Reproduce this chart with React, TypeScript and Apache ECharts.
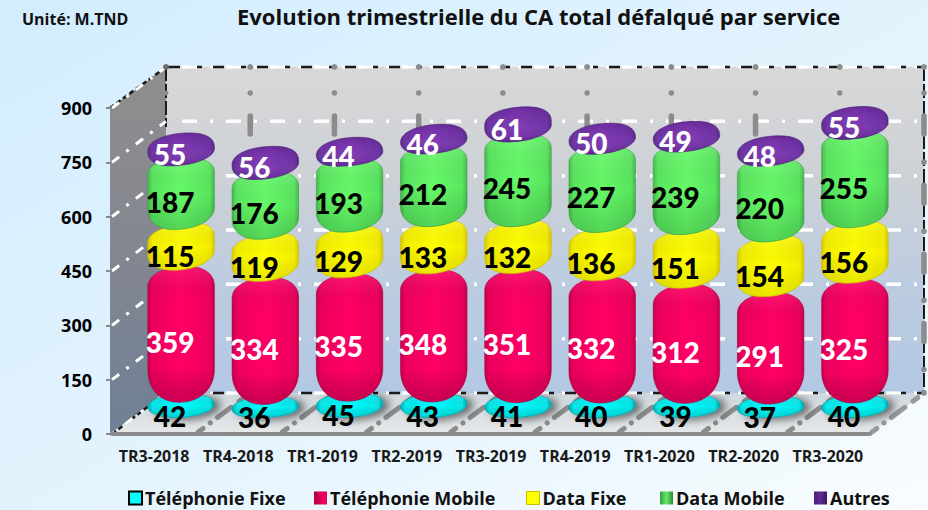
import React, { useEffect, useRef } from "react";
import * as echarts from "echarts";

const categories = ["TR3-2018", "TR4-2018", "TR1-2019", "TR2-2019", "TR3-2019", "TR4-2019", "TR1-2020", "TR2-2020", "TR3-2020"];
const telephonieFixe = [42, 36, 45, 43, 41, 40, 39, 37, 40];
const telephonieMobile = [359, 334, 335, 348, 351, 332, 312, 291, 325];
const dataFixe = [115, 119, 129, 133, 132, 136, 151, 154, 156];
const dataMobile = [187, 176, 193, 212, 245, 227, 239, 220, 255];
const autres = [55, 56, 44, 46, 61, 50, 49, 48, 55];
const yTicks = [0, 150, 300, 450, 600, 750, 900];

const FONT = "'Open Sans', sans-serif";
const GL = 112, GR = 870, GT = 108, GB = 434;
const DX = 54, DY = -41;

const rim = [0, 0.07, 0.5, 0.93, 1];
const hg = (stops: any[]) => new echarts.graphic.LinearGradient(0, 0, 1, 0, stops.map((c, i) => ({ offset: stops.length === 5 ? rim[i] : i / (stops.length - 1), color: c })));
const vg = (stops: any[]) => new echarts.graphic.LinearGradient(0, 0, 0, 1, stops.map((c, i) => ({ offset: i / (stops.length - 1), color: c })));

const looks = [
  { name: "Téléphonie Fixe", vals: telephonieFixe, fill: ["#00b4b8", "#08e6e8", "#00ffff", "#08e6e8", "#00a8ac"], stroke: "#009aa0", ext: [4, 4], rt: 11, rb: 11, tilt: 3, shift: [5, -5], txt: "#000", ly: 10, shadow: true, over: ["rgba(255,255,255,0.15)", "rgba(0,0,0,0)", "rgba(0,60,70,0.2)"] },
  { name: "Téléphonie Mobile", vals: telephonieMobile, fill: ["#c4004c", "#ec005c", "#ff0066", "#ec005c", "#c4004c"], stroke: "#b00048", ext: [2, 4], rt: 20, rb: 32, tilt: 1, shift: [6, -2], txt: "#fff", ly: 9, over: ["rgba(255,255,255,0.1)", "rgba(0,0,0,0)", "rgba(0,0,0,0)", "rgba(0,0,0,0)", "rgba(60,0,30,0.25)"] },
  { name: "Data Fixe", vals: dataFixe, fill: ["#d8ce00", "#f5ee00", "#ffff00", "#f5ee00", "#d8ce00"], stroke: "#c9bf00", ext: [3, 2], rt: 16, rb: 15, tilt: 5, shift: [16, -8], txt: "#000", ly: 9, over: ["rgba(255,255,255,0.12)", "rgba(0,0,0,0)", "rgba(80,70,0,0.12)"] },
  { name: "Data Mobile", vals: dataMobile, fill: ["#45bb4e", "#5ae660", "#66fb68", "#5ae660", "#45bb4e"], stroke: "#3da345", ext: [1, 3], rt: 15, rb: 20, tilt: 2, shift: [8, -8], txt: "#000", ly: 9, over: ["rgba(255,255,255,0.12)", "rgba(0,0,0,0)", "rgba(0,50,10,0.18)"] },
  { name: "Autres", vals: autres, fill: ["#4f1f80", "#682aa0", "#7a30b0", "#682aa0", "#4f1f80"], stroke: "#451a70", ext: [6, 7], rt: 16, rb: 13, tilt: 4, shift: [9, -12], txt: "#fff", ly: 5, over: ["rgba(0,0,0,0.1)", "rgba(255,255,255,0.05)", "rgba(30,0,60,0.2)"] },
];

function blob(x0: number, x1: number, top: number, bot: number, rt: number, rb: number, tilt: number, shift: number[]) {
  const xc = (x0 + x1) / 2;
  const xp = xc + shift[0];
  const xq = xc + shift[1];
  const yTL = top + rt + tilt / 2, yTR = top + rt - tilt / 2;
  const yBL = Math.max(bot - rb, yTL), yBR = Math.max(bot - rb - tilt, yTR);
  const k = 0.6;
  return [
    `M${x0} ${yTL}`,
    `C${x0} ${yTL - rt * k} ${xp - (xp - x0) * k} ${top} ${xp} ${top}`,
    `C${xp + (x1 - xp) * k} ${top} ${x1} ${yTR - rt * k} ${x1} ${yTR}`,
    `L${x1} ${yBR}`,
    `C${x1} ${yBR + rb * k} ${xq + (x1 - xq) * k} ${bot} ${xq} ${bot}`,
    `C${xq - (xq - x0) * k} ${bot} ${x0} ${yBL + rb * k} ${x0} ${yBL}`,
    "Z",
  ].join(" ");
}

function makeSeries(look: any, li: number) {
  const below = looks.slice(0, li);
  const data = look.vals.map((v: number, i: number) => {
    const start = below.reduce((s, l) => s + l.vals[i], 0);
    return [i, start, start + v, v];
  });
  return {
    type: "custom",
    name: look.name,
    z: 3 + li,
    clip: false,
    itemStyle: { color: look.fill[2] },
    encode: { x: 0, y: [1, 2] },
    data,
    renderItem: (_p: any, api: any) => {
      const band = api.size([1, 0])[0];
      const a = api.coord([api.value(0), api.value(1)]);
      const b = api.coord([api.value(0), api.value(2)]);
      const cx = a[0] + DX / 2;
      const w = band * 0.79;
      const top = b[1] + DY / 2 - look.ext[0];
      const bot = a[1] + DY / 2 + look.ext[1];
      const d = blob(cx - w / 2, cx + w / 2, top, bot, look.rt, look.rb, look.tilt, look.shift);
      const lyc = (a[1] + b[1]) / 2 + DY / 2 + look.ly;
      return {
        type: "group",
        children: [
          {
            type: "path",
            shape: { pathData: d },
            style: {
              fill: hg(look.fill),
              stroke: look.stroke,
              lineWidth: 0.6,
              ...(look.shadow ? { shadowBlur: 8, shadowColor: "rgba(0,0,0,0.55)", shadowOffsetX: 6, shadowOffsetY: 2 } : {}),
            },
          },
          { type: "path", shape: { pathData: d }, style: { fill: vg(look.over) } },
          {
            type: "text",
            z2: 50,
            style: {
              text: String(api.value(3)),
              x: cx - 11,
              y: lyc,
              fill: look.txt,
              font: "900 28px Lato, sans-serif",
              align: "center",
              verticalAlign: "middle",
            },
          },
        ],
      };
    },
  };
}

function dashLine(x1: number, y1: number, x2: number, y2: number, stroke: string, lineWidth: number, lineDash?: number[], cap = "butt") {
  return { type: "line", silent: true, shape: { x1, y1, x2, y2 }, style: { stroke, lineWidth, lineDash, lineCap: cap } };
}

function frame() {
  const els: any[] = [];
  const bx = GL + DX, by = GB + DY, tx = GR + DX, ty = GT + DY;
  els.push({ type: "polygon", silent: true, shape: { points: [[bx, ty], [tx, ty], [tx, by], [bx, by]] }, style: { fill: vg(["#d8d8d8", "#cdd1d6", "#bccce0", "#b3c8e4"]) } });
  els.push({ type: "polygon", silent: true, shape: { points: [[GL - 2, GT], [bx, ty], [bx, by], [GL - 2, GB]] }, style: { fill: vg(["#8f8f8f", "#848690", "#6f8096"]) } });
  els.push({ type: "polygon", silent: true, shape: { points: [[GL - 2, GB], [GR, GB], [tx, by], [bx, by]] }, style: { fill: vg(["#cfd8de", "#e6e8e9"]) } });

  const whiteDash = [15, 13, 3, 13];
  els.push(dashLine(bx, ty, tx, ty, "#1a1a1a", 2.5, [14, 8]));
  els.push(dashLine(bx, by, tx, by, "#1a1a1a", 2.5, [14, 8]));
  els.push(dashLine(bx, ty, bx, ty + 60, "#1a1a1a", 2, [14, 3]));
  els.push(dashLine(tx, ty, tx, by, "#1a1a1a", 2, [14, 3]));
  els.push(dashLine(GL - 2, GT, bx, ty, "#1a1a1a", 2.5, [5, 3]));
  els.push(dashLine(GL, GB, bx, by, "#1a1a1a", 2.5, [5, 3]));

  const unit = (GB - GT) / yTicks[yTicks.length - 1];
  yTicks.forEach((t) => {
    const y = GB - t * unit;
    els.push(dashLine(bx + 16, y + DY, tx, y + DY, "#ffffff", 3.5, whiteDash));
    els.push(dashLine(GL, y, bx, y + DY, "#ffffff", 3, t === 0 ? [3, 13, 10, 10] : [9, 9, 3, 9]));
  });

  const band = (GR - GL) / categories.length;
  for (let i = 1; i <= categories.length; i++) {
    const x = GL + band * i;
    const xb = x + DX;
    els.push({ type: "circle", silent: true, shape: { cx: xb, cy: ty, r: 3 }, style: { fill: "#8c8c8c" } });
    els.push(dashLine(xb, ty + 26, xb, by, "#8c8c8c", 5.5, [0.1, 23, 18, 28], "round"));
    els.push(dashLine(x + 2, GB - 2, xb, by, i === categories.length ? "#9a9a9a" : "#8c8c8c", 5, [6, 9, 0.1, 9, 17, 10], "round"));
  }
  els.push({ type: "circle", silent: true, shape: { cx: bx, cy: ty, r: 3 }, style: { fill: "#6e6e6e" } });
  els.push({ type: "circle", silent: true, shape: { cx: bx, cy: ty + 26, r: 2.5 }, style: { fill: "#8c8c8c" } });
  return els;
}

const legendPlaces = [128, 314, 526, 660, 814];
const legendSwatches: any[] = [
  { color: "#00ffff", borderColor: "#000", borderWidth: 2 },
  { color: new echarts.graphic.LinearGradient(0, 0, 1, 0, [{ offset: 0, color: "#a8003f" }, { offset: 0.5, color: "#e0005a" }, { offset: 1, color: "#f00060" }]) },
  { color: "#ffff00", borderColor: "#c9bf00", borderWidth: 1 },
  { color: new echarts.graphic.LinearGradient(0, 0, 1, 0, [{ offset: 0, color: "#2fa040" }, { offset: 0.5, color: "#66e866" }, { offset: 1, color: "#2a8a38" }]) },
  { color: new echarts.graphic.LinearGradient(0, 0, 1, 0, [{ offset: 0, color: "#4f1f80" }, { offset: 0.5, color: "#5e2a90" }, { offset: 1, color: "#3b1560" }]) },
];

export default function App() {
  const ref = useRef<HTMLDivElement>(null);
  useEffect(() => {
    document.body.style.margin = "0";
    const chart = echarts.init(ref.current!, undefined, { renderer: "svg" });
    chart.setOption({
      animation: false,
      backgroundColor: new echarts.graphic.LinearGradient(0, 0, 1, 1, [
        { offset: 0, color: "#d2edfe" },
        { offset: 0.5, color: "#e2f3fd" },
        { offset: 1, color: "#f8fcfe" },
      ]),
      title: [
        { text: "Evolution trimestrielle du CA total défalqué par service", left: 237, top: 5, padding: 0, textStyle: { fontFamily: FONT, fontWeight: 700, fontSize: 22, color: "#111" } },
        { text: "Unité: M.TND", left: 22, top: 11, padding: 0, textStyle: { fontFamily: FONT, fontWeight: 700, fontSize: 16, color: "#111" } },
      ],
      grid: { left: GL, right: 928 - GR, top: GT, bottom: 510 - GB },
      xAxis: {
        type: "category",
        data: categories,
        z: 2,
        axisLine: { lineStyle: { color: "#8a8a8a", width: 4 } },
        axisTick: { alignWithLabel: false, length: 5, lineStyle: { color: "#8a8a8a", width: 5 } },
        axisLabel: { interval: 0, margin: 14, fontFamily: FONT, fontWeight: 700, fontSize: 16, color: "#1a1a1a" },
      },
      yAxis: {
        type: "value",
        min: 0,
        max: 900,
        interval: 150,
        splitLine: { show: false },
        axisLine: { show: false },
        axisTick: { show: true, length: 6, lineStyle: { color: "#8a8a8a", width: 2 } },
        axisLabel: { margin: 20, fontFamily: FONT, fontWeight: 700, fontSize: 18, color: "#000" },
      },
      legend: looks.map((l, i) => ({
        left: legendPlaces[i],
        top: 489,
        padding: 0,
        itemWidth: 13,
        itemHeight: 13,
        itemGap: 0,
        selectedMode: false,
        textStyle: { fontFamily: FONT, fontWeight: 700, fontSize: 18, color: "#111", padding: [0, 0, 0, -2] },
        data: [{ name: l.name, icon: "rect", itemStyle: legendSwatches[i] }],
      })),
      graphic: { z: 0, elements: frame() },
      series: looks.map((l, i) => makeSeries(l, i)),
    });
    return () => chart.dispose();
  }, []);
  return <div ref={ref} style={{ width: 928, height: 510 }} />;
}
